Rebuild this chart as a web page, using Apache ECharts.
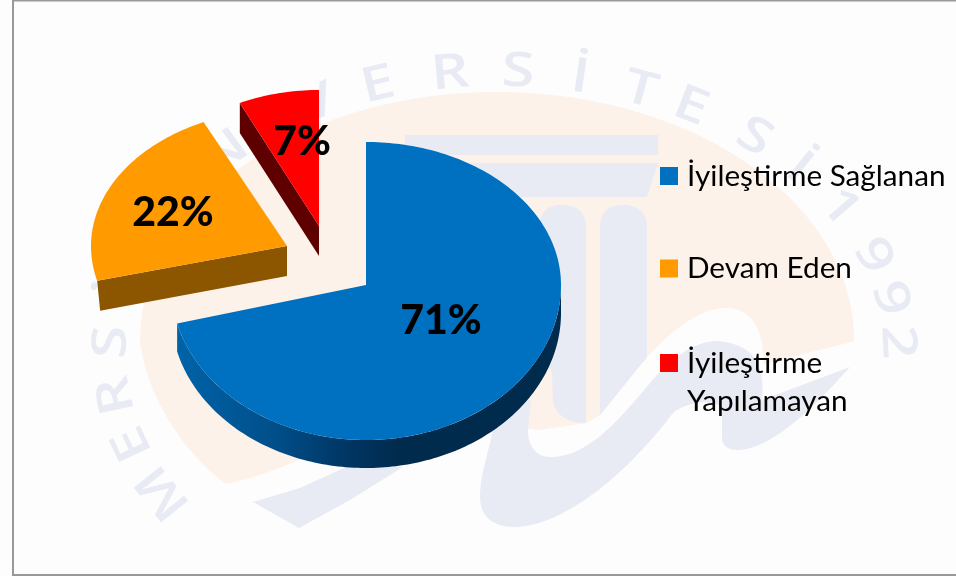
<!DOCTYPE html>
<html><head><meta charset="utf-8">
<style>html,body{margin:0;padding:0;background:#fdfdfd}#c{width:956px;height:576px}</style>
<script src="https://cdn.jsdelivr.net/npm/echarts@6/dist/echarts.min.js"></script>
</head><body><div id="c"></div>
<script>
// Data
const categories = ['İyileştirme Sağlanan', 'Devam Eden', 'İyileştirme Yapılamayan'];
const values = [71, 22, 7];
const total = values.reduce((a, b) => a + b, 0);

// Styles
const FONT = 'Lato, Carlito, "Open Sans", sans-serif';
const WM = '#e8ebf3', PEACH = '#fdf2ea', BG = '#fdfdfd';
const sliceStyle = [
  { color: '#0070c0', cx: 366, cy: 285, rx: 195, ryT: 143, ryB: 155, depth: 28, lx: 441, ly: 321,
    side: { type: 'linear', x: 178, y: 0, x2: 560, y2: 0, global: true, colorStops: [
      { offset: 0, color: '#0063a8' }, { offset: .25, color: '#004f8a' }, { offset: .45, color: '#003562' },
      { offset: .58, color: '#002b4d' }, { offset: 1, color: '#002b4d' }] } },
  { color: '#ff9b00', side: '#8c5600', cx: 287, cy: 246, rx: 196, ryT: 137, ryB: 140, depth: 30, lx: 173, ly: 213 },
  { color: '#ff0000', side: '#5f0000', cx: 319, cy: 226, rx: 186, ryT: 136, ryB: 136, depth: 30, lx: 302, ly: 142 }
];

function slicePoint(s, t) {
  const c = Math.cos(t);
  return [s.cx + s.rx * Math.sin(t), s.cy - (c > 0 ? s.ryT : s.ryB) * c];
}
function arc(s, a, b) {
  const n = Math.max(2, Math.ceil(Math.abs(b - a) / 0.02)), out = [];
  for (let i = 0; i <= n; i++) out.push(slicePoint(s, a + (b - a) * i / n));
  return out;
}
function renderSlice(index) {
  return function (params, api) {
    const s = sliceStyle[index], v = api.value(0);
    let before = 0;
    for (let i = 0; i < index; i++) before += values[i];
    const a = before / total * 2 * Math.PI, b = (before + v) / total * 2 * Math.PI;
    const top = arc(s, a, b);
    const children = [];
    let wall;
    if (index === 0) {
      const lower = arc(s, Math.PI / 2, b);
      wall = lower.concat(lower.slice().reverse().map(p => [p[0], p[1] + s.depth]));
    } else {
      const p = slicePoint(s, a), dx = index === 1 ? 3 : 0;
      wall = [p, [s.cx, s.cy], [s.cx, s.cy + s.depth], [p[0] + dx, p[1] + s.depth]];
    }
    children.push({ type: 'polygon', shape: { points: wall }, style: { fill: s.side } });
    children.push({ type: 'polygon', shape: { points: [[s.cx, s.cy]].concat(top) }, style: { fill: s.color } });
    children.push({ type: 'text', z2: 10, x: s.lx, y: s.ly, style: {
      text: v + '%', fill: '#000', font: '900 41px ' + FONT, align: 'center', verticalAlign: 'middle' } });
    return { type: 'group', children };
  };
}

// Watermark letters placed on the seal's ellipse
const sealLetters = [['M',240],['E',251],['R',261],['S',272],['İ',282],['N',292],['Ü',305],['N',315],['İ',323],['V',332],
  ['E',342],['R',353],['S',3],['İ',12],['T',21],['E',29],['S',40],['İ',49],['1',59],['9',70],['9',79],['2',88]];
const sealEls = sealLetters.map(([ch, deg]) => {
  const t = deg * Math.PI / 180, rx = deg > 180 ? 385 : 400, ry = 280;
  return { type: 'text', z: -5, silent: true,
    x: 497 + rx * Math.sin(t), y: 352 - ry * Math.cos(t),
    rotation: -Math.atan2(ry * Math.sin(t), rx * Math.cos(t)),
    scaleX: 1.25, scaleY: 1,
    style: { text: ch, fill: WM, font: '600 48px "Open Sans", sans-serif', align: 'center', verticalAlign: 'middle' } };
});
// Flatten a small M/L/Q/C outline into polygon points for the watermark artwork
function outline(d) {
  const tok = d.trim().split(/\s+/), pts = [];
  let i = 0, cur = [0, 0];
  const num = () => parseFloat(tok[i++]);
  while (i < tok.length) {
    const cmd = tok[i++];
    if (cmd === 'M' || cmd === 'L') { cur = [num(), num()]; pts.push(cur); }
    else if (cmd === 'Q') {
      const c = [num(), num()], e = [num(), num()], s = cur;
      for (let k = 1; k <= 16; k++) { const t = k / 16, u = 1 - t;
        pts.push([u*u*s[0] + 2*u*t*c[0] + t*t*e[0], u*u*s[1] + 2*u*t*c[1] + t*t*e[1]]); }
      cur = e;
    } else if (cmd === 'C') {
      const a = [num(), num()], b = [num(), num()], e = [num(), num()], s = cur;
      for (let k = 1; k <= 24; k++) { const t = k / 24, u = 1 - t;
        pts.push([u*u*u*s[0] + 3*u*u*t*a[0] + 3*u*t*t*b[0] + t*t*t*e[0], u*u*u*s[1] + 3*u*u*t*a[1] + 3*u*t*t*b[1] + t*t*t*e[1]]); }
      cur = e;
    }
  }
  return pts;
}
const shape = (d, fill, z) => ({ type: 'polygon', z, silent: true, shape: { points: outline(d) }, style: { fill } });

const background = [
  { type: 'ellipse', z: -9, silent: true, shape: { cx: 497, cy: 340, rx: 357, ry: 248 }, style: { fill: PEACH } },
  shape('M 100 345 L 141 345 C 146 395 185 455 226 484 C 255 478 275 470 299 460 L 370 430 L 450 420 L 540 430 L 587 423 L 600 415 L 647 357 C 665 338 695 308 727 308 C 750 308 765 330 763 364 L 852 342 L 900 320 L 900 576 L 100 576', BG, -8),
  shape('M 405 135 L 658 135 L 658 155 L 405 155', WM, -7),
  shape('M 405 163 L 658 163 L 647 197 L 405 197', WM, -7),
  shape('M 600 225 Q 602 205 623 205 Q 645 205 647 225 L 647 357 L 600 415', WM, -7),
  shape('M 539 225 Q 541 205 562 205 Q 584 205 586 225 L 586 423 Q 560 423 553 403 L 552 373 L 539 340', WM, -7),
  shape('M 492 433 C 488 455 480 475 480 497 C 480 520 498 527 514 527 C 565 527 630 470 673 413 C 685 403 710 398 722 407 L 722 437 C 722 447 730 450 737 450 C 775 450 825 395 850 367 L 762 400 C 764 375 762 345 718 341 C 690 341 665 365 650 383 C 615 425 585 458 549 457 C 535 456 528 445 528 430 L 531 400 L 480 400', WM, -7),
  shape('M 253 502 L 299 528 L 350 500 L 403 467 L 346 467 L 300 488', WM, -7),
  { type: 'rect', z: -1, silent: true, shape: { x: 13, y: 0.5, width: 960, height: 574.5 }, style: { fill: 'none', stroke: '#999', lineWidth: 2 } }
].concat(sealEls);

const legendText = { color: '#000', fontFamily: FONT, fontSize: 29.7, lineHeight: 38, padding: [0, 0, 0, 4] };
const option = {
  animation: false,
  backgroundColor: BG,
  graphic: { elements: background },
  legend: [
    { data: categories.slice(0, 2), orient: 'vertical', left: 655, top: 152, itemWidth: 18, itemHeight: 18, itemGap: 54.5,
      icon: 'rect', selectedMode: false, textStyle: legendText },
    { data: categories.slice(2), orient: 'vertical', left: 655, top: 301, itemWidth: 18, itemHeight: 18,
      icon: 'rect', selectedMode: false, textStyle: legendText,
      formatter: n => '\n' + n.replace(' ', '\n') }
  ],
  series: categories.map((name, i) => ({
    type: 'custom', name, coordinateSystem: 'none', silent: true,
    itemStyle: { color: sliceStyle[i].color },
    renderItem: renderSlice(i), data: [[values[i]]]
  }))
};
echarts.init(document.getElementById('c'), null, { renderer: 'canvas' }).setOption(option);
</script></body></html>
